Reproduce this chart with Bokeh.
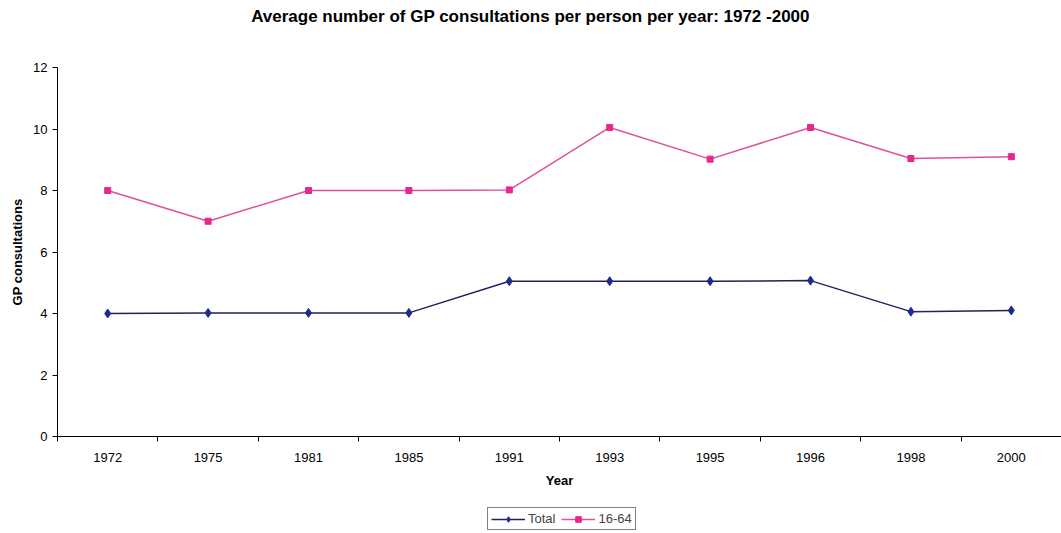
import numpy as np
from bokeh.plotting import figure
from bokeh.models import Range1d, FixedTicker, SingleIntervalTicker, Legend, LegendItem, Label
from bokeh.layouts import column
from bokeh.embed import file_html
from bokeh.resources import INLINE

title_text = "Average number of GP consultations per person per year: 1972 -2000"
years = ["1972", "1975", "1981", "1985", "1991", "1993", "1995", "1996", "1998", "2000"]
total = [4.0, 4.02, 4.02, 4.02, 5.05, 5.05, 5.05, 5.07, 4.06, 4.1]
age_16_64 = [8.0, 7.0, 8.0, 8.0, 8.02, 10.05, 9.02, 10.05, 9.04, 9.1]
y_ticks_interval = 2

FONT = "Liberation Sans"
n = len(years)
xc = (np.arange(n) + 0.5).tolist()

pink_line = "#E0509A"
pink_mark = "#E8268F"
navy_line = "#22225E"
navy_mark = "#1F2A8F"


def strip(h):
    f = figure(width=1061, height=h, output_backend="svg", toolbar_location=None,
               x_range=Range1d(0, n), y_range=Range1d(-2, -1),
               min_border_left=57, min_border_right=0, min_border_top=0, min_border_bottom=0)
    f.axis.visible = False
    f.grid.visible = False
    f.outline_line_color = None
    return f


# title strip
tf = strip(34)
tf.add_layout(Label(x=473, y=18, x_units="screen", y_units="screen", text=title_text,
                    text_font=FONT, text_font_size="17px", text_font_style="bold",
                    text_color="black", text_align="center", text_baseline="middle"))

p = figure(width=1061, height=466, output_backend="svg", toolbar_location=None,
           x_range=Range1d(0, n), y_range=Range1d(0, 12),
           min_border_left=57, min_border_right=0, min_border_top=33, min_border_bottom=64)
p.outline_line_color = None
p.xgrid.visible = False
p.ygrid.visible = False
p.background_fill_color = "white"
p.border_fill_color = "white"

# x axis
p.xaxis.ticker = FixedTicker(ticks=xc, minor_ticks=list(range(n + 1)))
p.xaxis.major_label_overrides = {c: y for c, y in zip(xc, years)}
p.xaxis.major_tick_in = 0
p.xaxis.major_tick_out = 0
p.xaxis.minor_tick_in = 0
p.xaxis.minor_tick_out = 5
p.xaxis.minor_tick_line_color = "black"
p.xaxis.axis_line_color = "black"
p.xaxis.major_label_standoff = 11
p.xaxis.axis_label = "Year"
p.xaxis.axis_label_standoff = 8
# y axis
p.yaxis.ticker = SingleIntervalTicker(interval=y_ticks_interval)
p.yaxis.minor_tick_out = 0
p.yaxis.minor_tick_in = 0
p.yaxis.major_tick_in = 0
p.yaxis.major_tick_out = 5
p.yaxis.major_label_standoff = 5
p.yaxis.axis_label = "GP consultations"
p.yaxis.axis_label_standoff = 5
for ax in (p.xaxis, p.yaxis):
    ax.major_label_text_font = FONT
    ax.major_label_text_font_size = "13px"
    ax.major_label_text_color = "black"
    ax.axis_label_text_font = FONT
    ax.axis_label_text_font_size = "13px"
    ax.axis_label_text_font_style = "bold"
    ax.axis_label_text_color = "black"

p.line(xc, total, line_color=navy_line, line_width=1.5)
p.scatter(xc, total, marker="diamond", size=9, fill_color=navy_mark, line_color=navy_mark)
p.line(xc, age_16_64, line_color=pink_line, line_width=1.5)
p.scatter(xc, age_16_64, marker="square", size=6, fill_color=pink_mark, line_color=pink_mark)

# legend strip below the chart (same series, plotted out of view; only the keys show)
lg = strip(33)
e1l = lg.line(xc, total, line_color=navy_line, line_width=1.5)
e1m = lg.scatter(xc, total, marker="diamond", size=9, fill_color=navy_mark, line_color=navy_mark)
e2l = lg.line(xc, age_16_64, line_color=pink_line, line_width=1.5)
e2m = lg.scatter(xc, age_16_64, marker="square", size=6, fill_color=pink_mark, line_color=pink_mark)
legend = Legend(items=[LegendItem(label="Total", renderers=[e1l, e1m]),
                       LegendItem(label="16-64", renderers=[e2l, e2m])],
                orientation="horizontal", location=(430, 3),
                label_text_font=FONT, label_text_font_size="13px",
                border_line_color="black", border_line_width=1,
                glyph_width=34, glyph_height=14, label_standoff=3, spacing=6,
                padding=3, margin=0, label_height=14)
lg.add_layout(legend, "center")

open("out.html", "w").write(file_html(column(tf, p, lg, spacing=0), INLINE))
